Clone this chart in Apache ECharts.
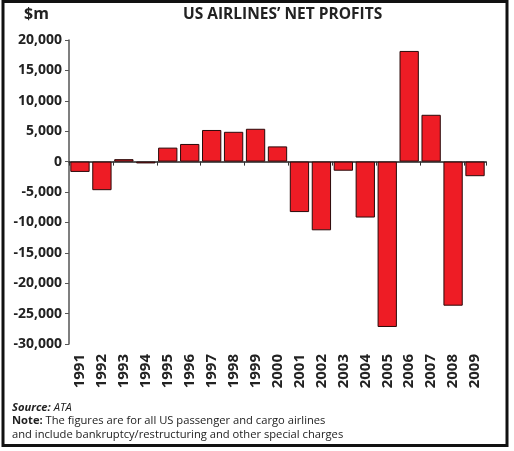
<!DOCTYPE html>
<html><head><meta charset="utf-8">
<script src="https://cdn.jsdelivr.net/npm/echarts@6/dist/echarts.min.js"></script>
<style>html,body{margin:0;padding:0;background:#fff}#c{width:514px;height:451px}</style>
</head><body><div id="c"></div>
<script>
const years = ['1991','1992','1993','1994','1995','1996','1997','1998','1999','2000','2001','2002','2003','2004','2005','2006','2007','2008','2009'];
const profits = [-1700,-4700,400,-300,2300,2900,5200,4900,5400,2500,-8300,-11300,-1500,-9200,-27200,18200,7700,-23700,-2400];
const yMin = -30000, yMax = 20000, yStep = 5000;
const titleText = 'US AIRLINES\u2019 NET PROFITS';
const unitText = '$m';

const chart = echarts.init(document.getElementById('c'));
const F = '"Open Sans", sans-serif';
chart.setOption({
  animation: false,
  grid: {left: 69, right: 28, top: 40, bottom: 107, containLabel: false},
  xAxis: [
    {type: 'category', data: years, axisLine: {onZero: true, lineStyle: {color: '#222', width: 1.5}},
     axisTick: {show: true, length: 4, lineStyle: {color: '#333'}}, axisLabel: {show: false}, splitLine: {show: false}},
    {type: 'category', data: years, position: 'bottom', axisLine: {show: false, onZero: false}, axisTick: {show: false},
     axisLabel: {rotate: 90, margin: 10, color: '#222', fontWeight: 'bold', fontSize: 15, fontFamily: F}}
  ],
  yAxis: {type: 'value', min: yMin, max: yMax, interval: yStep,
    axisLine: {show: true, lineStyle: {color: '#555', width: 1.5}},
    axisTick: {show: true, length: 4, lineStyle: {color: '#555'}},
    splitLine: {show: false},
    axisLabel: {margin: 7, color: '#222', fontWeight: 'bold', fontSize: 14, fontFamily: F,
      formatter: v => v.toLocaleString('en-US')}},
  series: [{type: 'bar', data: profits, xAxisIndex: 0, barCategoryGap: '12%',
    itemStyle: {color: '#ee1c25', borderColor: '#2a0a0a', borderWidth: 1}}],
  graphic: [
    {type: 'rect', shape: {x: 3, y: 1.5, width: 504, height: 444}, style: {fill: 'none', stroke: '#111', lineWidth: 3}},
    {type: 'text', left: 183, top: 7, style: {text: titleText, font: 'bold 15.5px ' + F, fill: '#222'}},
    {type: 'text', left: 24, top: 6, style: {text: unitText, font: 'bold 16px ' + F, fill: '#222'}},
    {type: 'text', left: 12, top: 401, style: {
      text: '{bi|Source:} {i|ATA}\n{b|Note:} The figures are for all US passenger and cargo airlines\nand include bankruptcy/restructuring and other special charges',
      font: '11.2px ' + F, fill: '#222', lineHeight: 13.5,
      rich: {bi: {fontStyle: 'italic', fontWeight: 'bold', fontSize: 11.2, fontFamily: F},
             i: {fontStyle: 'italic', fontSize: 11.2, fontFamily: F},
             b: {fontWeight: 'bold', fontSize: 11.2, fontFamily: F}}}}
  ]
});
</script></body></html>
